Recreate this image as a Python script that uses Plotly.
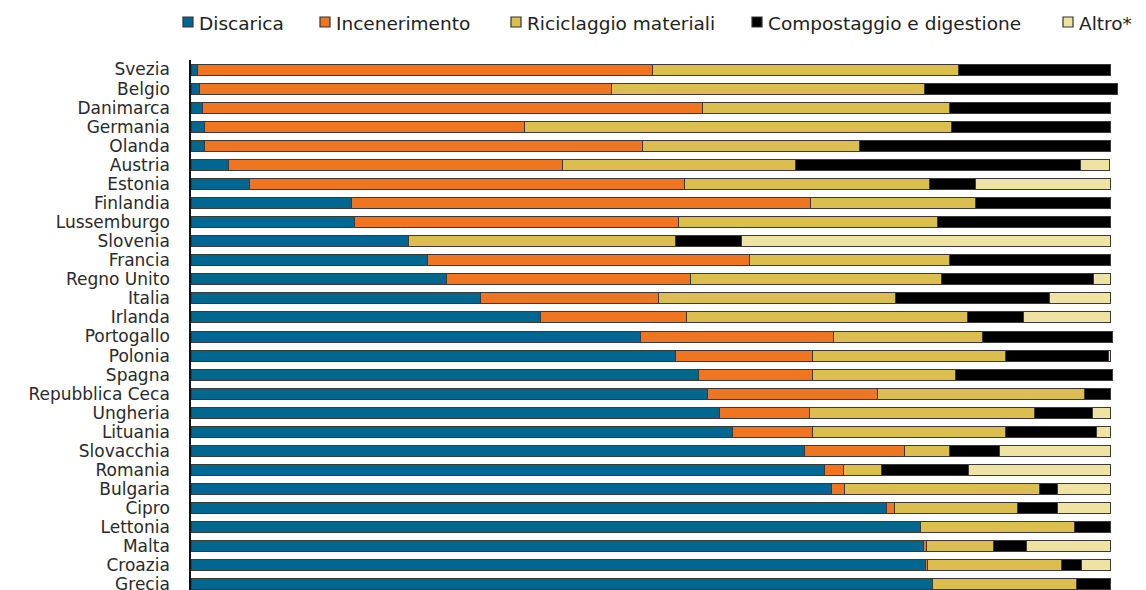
import plotly.graph_objects as go

countries = ["Svezia", "Belgio", "Danimarca", "Germania", "Olanda", "Austria", "Estonia",
             "Finlandia", "Lussemburgo", "Slovenia", "Francia", "Regno Unito", "Italia",
             "Irlanda", "Portogallo", "Polonia", "Spagna", "Repubblica Ceca", "Ungheria",
             "Lituania", "Slovacchia", "Romania", "Bulgaria", "Cipro", "Lettonia", "Malta",
             "Croazia", "Grecia"]

discarica = [0.7, 0.9, 1.3, 1.5, 1.5, 4.1, 6.4, 17.4, 17.8, 23.6, 25.7, 27.8, 31.5, 38.0,
             48.9, 52.7, 55.2, 56.2, 57.5, 58.9, 66.7, 68.9, 69.6, 75.6, 79.3, 79.6, 79.9, 80.6]
incenerimento = [49.5, 44.8, 54.3, 34.8, 47.6, 36.3, 47.3, 50.0, 35.2, 0.0, 35.0, 26.5, 19.3,
                 15.9, 20.9, 14.9, 12.4, 18.4, 9.7, 8.7, 10.9, 2.0, 1.5, 0.9, 0.0, 0.4, 0.2, 0.0]
riciclaggio = [33.2, 34.0, 26.9, 46.4, 23.6, 25.3, 26.6, 17.9, 28.2, 29.1, 21.8, 27.3, 25.8,
               30.5, 16.2, 21.0, 15.5, 22.5, 24.5, 21.0, 4.9, 4.2, 21.2, 13.4, 16.7, 7.3, 14.5, 15.7]
compostaggio = [16.6, 21.0, 17.5, 17.3, 27.3, 31.0, 5.0, 14.7, 18.8, 7.2, 17.5, 16.5, 16.7,
                6.1, 14.2, 11.1, 17.1, 2.9, 6.3, 9.8, 5.4, 9.4, 1.9, 4.3, 4.0, 3.5, 2.2, 3.7]
altro = [0.0, 0.0, 0.0, 0.0, 0.0, 3.2, 14.7, 0.0, 0.0, 40.1, 0.0, 1.9, 6.7, 9.5, 0.0, 0.3,
         0.0, 0.0, 2.0, 1.6, 12.1, 15.5, 5.8, 5.8, 0.0, 9.2, 3.2, 0.0]

series_names = ["Discarica", "Incenerimento", "Riciclaggio materiali",
                "Compostaggio e digestione", "Altro*"]
series_values = [discarica, incenerimento, riciclaggio, compostaggio, altro]
series_colors = ["#006890", "#F07521", "#DCBE4E", "#000000", "#EEE3A2"]

# layout geometry (pixels)
W, H = 1146, 590
ML, MR, MT, MB = 183, 34, 52, 0
PW, PH = W - ML - MR, H - MT - MB

fig = go.Figure()
for name, vals, color in zip(series_names, series_values, series_colors):
    fig.add_trace(go.Bar(
        y=countries, x=vals, name=name, orientation="h",
        marker=dict(color=color, line=dict(color="#3a3a3a", width=1)),
        width=0.58, showlegend=False,
    ))

# custom legend row (left pixel of each key square)
legend_px = [175, 312, 503, 744, 1055]
legend_y = 14
sq = 10


def px_x(v):
    return (v - ML) / PW


def px_y(v):
    return 1 - (v - MT) / PH


for name, color, lx in zip(series_names, series_colors, legend_px):
    fig.add_shape(type="rect", xref="paper", yref="paper",
                  x0=px_x(lx), x1=px_x(lx + sq),
                  y0=px_y(legend_y - sq / 2), y1=px_y(legend_y + sq / 2),
                  fillcolor=color, line=dict(color="#333333", width=1.2))
    fig.add_annotation(text=name, xref="paper", yref="paper",
                       x=px_x(lx + sq + 4), y=px_y(legend_y + 1),
                       xanchor="left", yanchor="middle", showarrow=False,
                       font=dict(size=18.5, color="#222222"))

fig.update_layout(
    barmode="stack",
    width=W, height=H,
    margin=dict(l=ML, r=MR, t=MT, b=MB, autoexpand=False),
    paper_bgcolor="white", plot_bgcolor="white",
    font=dict(family="DejaVu Sans", size=17, color="#2a2a2a"),
    showlegend=False,
)
fig.update_xaxes(range=[0, 101], visible=False, showgrid=False, zeroline=False)
fig.update_yaxes(categoryorder="array", categoryarray=countries, automargin=False,
                 tickmode="linear", dtick=1, tick0=0,
                 range=[27.71, -0.5], showline=True, linecolor="#111111", linewidth=1.5,
                 ticks="", showgrid=False, ticklabelstandoff=16)

fig.write_html("out.html")
